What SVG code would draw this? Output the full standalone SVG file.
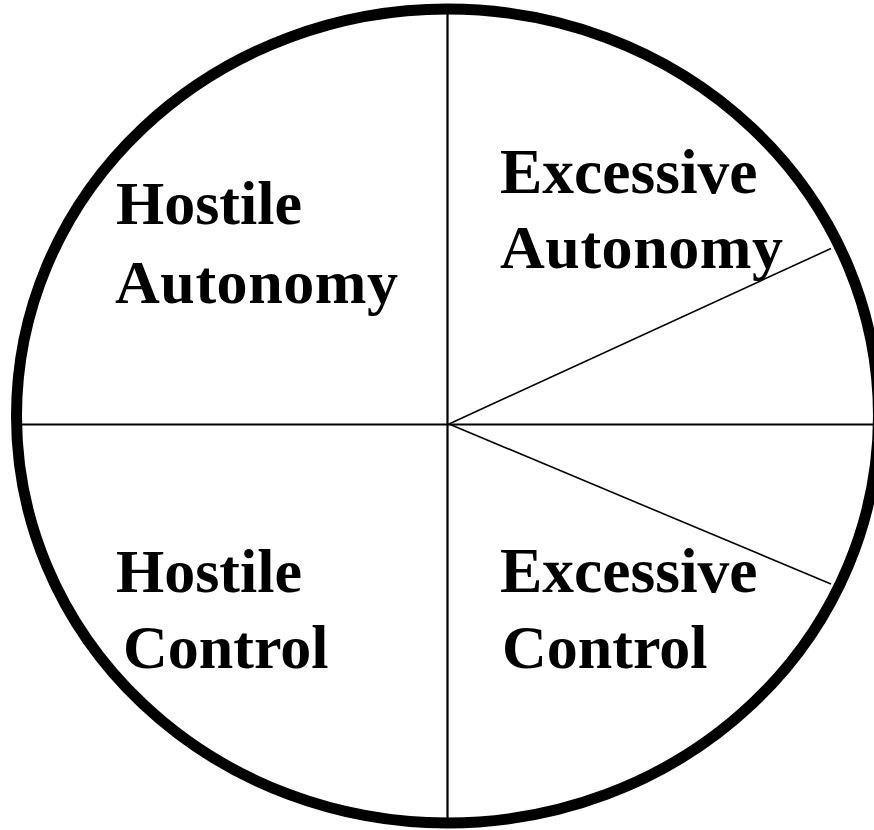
<svg xmlns="http://www.w3.org/2000/svg" width="874" height="830" viewBox="0 0 874 830">
<style>
.lbl{font-family:"Liberation Serif","Times New Roman",serif;font-weight:bold;font-size:62px;fill:#000}
.wide{font-size:63.5px}
.ln{stroke:#000;fill:none}
</style>
<rect width="874" height="830" fill="#fff"/>
<g id="connectors">
<line class="ln" x1="447.5" y1="14" x2="447.5" y2="818" stroke-width="2.2"/>
<line class="ln" x1="22" y1="424.5" x2="874" y2="424.5" stroke-width="2.2"/>
<line class="ln" x1="449" y1="424" x2="831" y2="248.5" stroke-width="1.6"/>
<line class="ln" x1="449" y1="424" x2="831" y2="584" stroke-width="1.6"/>
</g>
<g id="circle">
<ellipse cx="447.5" cy="416" rx="431" ry="407" fill="none" stroke="#000" stroke-width="11"/>
</g>
<g id="hostile-autonomy">
<text class="lbl" x="116" y="224">Hostile</text>
<text class="lbl" x="115" y="303" textLength="283" lengthAdjust="spacing">Autonomy</text>
</g>
<g id="excessive-autonomy">
<text class="lbl wide" x="500" y="193">Excessive</text>
<text class="lbl" x="500" y="268" textLength="283" lengthAdjust="spacing">Autonomy</text>
</g>
<g id="hostile-control">
<text class="lbl" x="116" y="592">Hostile</text>
<text class="lbl" x="123" y="668">Control</text>
</g>
<g id="excessive-control">
<text class="lbl wide" x="500" y="592">Excessive</text>
<text class="lbl" x="502" y="668">Control</text>
</g>
</svg>
